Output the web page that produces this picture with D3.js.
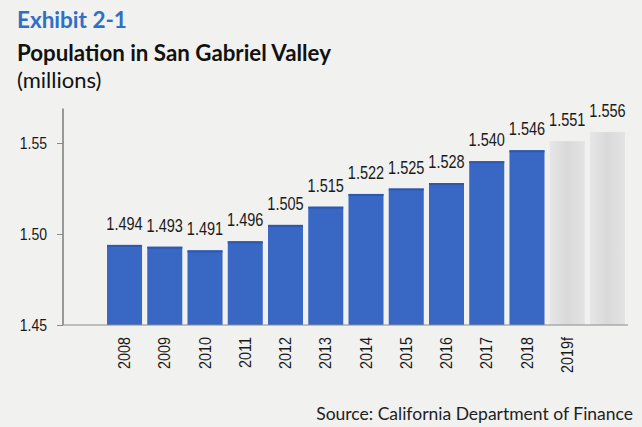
<!DOCTYPE html>
<html>
<head>
<meta charset="utf-8">
<script src="https://cdn.jsdelivr.net/npm/d3@7"></script>
<style>
  html, body { margin: 0; padding: 0; background: #f1f1ef; }
  svg { display: block; }
</style>
</head>
<body>
<svg id="chart" width="642" height="427"></svg>
<script>
// Population of San Gabriel Valley, millions
const years = ["2008", "2009", "2010", "2011", "2012", "2013", "2014", "2015", "2016", "2017", "2018", "2019f", ""];
const population = [1.494, 1.493, 1.491, 1.496, 1.505, 1.515, 1.522, 1.525, 1.528, 1.540, 1.546, 1.551, 1.556];
const forecast = [false, false, false, false, false, false, false, false, false, false, false, true, true];
const yTicks = [1.45, 1.50, 1.55];

const svg = d3.select("#chart");
const W = 642, H = 427;

const defs = svg.append("defs");
const grayGrad = defs.append("linearGradient").attr("id", "grayBar")
  .attr("x1", "0").attr("x2", "1").attr("y1", "0").attr("y2", "0");
grayGrad.append("stop").attr("offset", "0").attr("stop-color", "#e6e6e6");
grayGrad.append("stop").attr("offset", "0.5").attr("stop-color", "#d9d9d9");
grayGrad.append("stop").attr("offset", "1").attr("stop-color", "#e3e3e3");

svg.append("rect").attr("width", W).attr("height", H).attr("fill", "#f1f1ef");

const axisLeft = 63, baseY = 325;
const x = d3.scaleBand()
  .domain(d3.range(years.length))
  .range([104.4, 627.6])
  .paddingInner(0.13)
  .paddingOuter(0.065);
const y = d3.scaleLinear().domain([1.45, 1.55]).range([baseY, 143]);
const yTop = 1.569;

// Bars
svg.append("g").selectAll("rect")
  .data(population)
  .join("rect")
  .attr("x", (d, i) => x(i))
  .attr("y", d => y(d))
  .attr("width", x.bandwidth())
  .attr("height", d => baseY - y(d))
  .attr("fill", (d, i) => forecast[i] ? "url(#grayBar)" : "#3868c4");

// Thin darker cap on the blue bars
svg.append("g").selectAll("rect")
  .data(population.filter((d, i) => !forecast[i]))
  .join("rect")
  .attr("x", (d, i) => x(i))
  .attr("y", d => y(d))
  .attr("width", x.bandwidth())
  .attr("height", 2)
  .attr("fill", "#2f57ad");

// Value labels, horizontally condensed
const labelFont = "'Liberation Sans', Arial, sans-serif";
svg.append("g").selectAll("text")
  .data(population)
  .join("text")
  .attr("transform", (d, i) => `translate(${x(i) + x.bandwidth() / 2},${y(d) - 15}) scale(0.83,1)`)
  .attr("text-anchor", "middle")
  .attr("font-family", labelFont)
  .attr("font-size", 17.5)
  .attr("fill", "#1a1a1a")
  .text(d => d.toFixed(3));

// Y axis
const yAxis = d3.axisLeft(y).tickValues(yTicks).tickFormat(d3.format(".2f")).tickSize(6).tickPadding(0);
const gy = svg.append("g").attr("transform", `translate(${axisLeft},0)`).call(yAxis);
gy.select(".domain").remove();
gy.selectAll(".tick line").attr("stroke", "#8a8a8a");
gy.selectAll(".tick text")
  .attr("font-family", labelFont)
  .attr("font-size", 16.5)
  .attr("fill", "#1a1a1a")
  .attr("x", null)
  .attr("transform", "translate(-16,0) scale(0.85,1)");
svg.append("line")
  .attr("x1", axisLeft).attr("x2", axisLeft)
  .attr("y1", y(yTop)).attr("y2", baseY)
  .attr("stroke", "#7a7a7a").attr("stroke-width", 1.5);

// X axis baseline and rotated year labels
svg.append("line")
  .attr("x1", axisLeft).attr("x2", 628)
  .attr("y1", baseY).attr("y2", baseY)
  .attr("stroke", "#8a8a8a").attr("stroke-width", 1);
const xAxis = d3.axisBottom(x).tickFormat(i => years[i]).tickSize(0);
const gx = svg.append("g").attr("transform", `translate(0,${baseY})`).call(xAxis);
gx.select(".domain").remove();
gx.selectAll(".tick text")
  .attr("font-family", labelFont)
  .attr("font-size", 16)
  .attr("fill", "#1a1a1a")
  .attr("text-anchor", "end")
  .attr("dy", "0.35em")
  .attr("transform", "translate(0,12) rotate(-90) scale(0.9,1)")
  .attr("x", 0).attr("y", 0);

// Titles
const titleFont = "Lato, 'Open Sans', 'Liberation Sans', sans-serif";
svg.append("text").attr("x", 17).attr("y", 28)
  .attr("font-family", titleFont).attr("font-weight", "bold").attr("font-size", 22.5)
  .attr("fill", "#2f6fc6").text("Exhibit 2-1");
svg.append("text").attr("x", 17).attr("y", 61)
  .attr("font-family", titleFont).attr("font-weight", "bold").attr("font-size", 22.3)
  .attr("fill", "#111").text("Population in San Gabriel Valley");
svg.append("text").attr("x", 17).attr("y", 88)
  .attr("font-family", titleFont).attr("font-size", 22)
  .attr("fill", "#111").text("(millions)");
svg.append("text").attr("x", 633).attr("y", 420)
  .attr("text-anchor", "end")
  .attr("font-family", titleFont).attr("font-size", 17.5)
  .attr("fill", "#222").text("Source: California Department of Finance");
</script>
</body>
</html>
